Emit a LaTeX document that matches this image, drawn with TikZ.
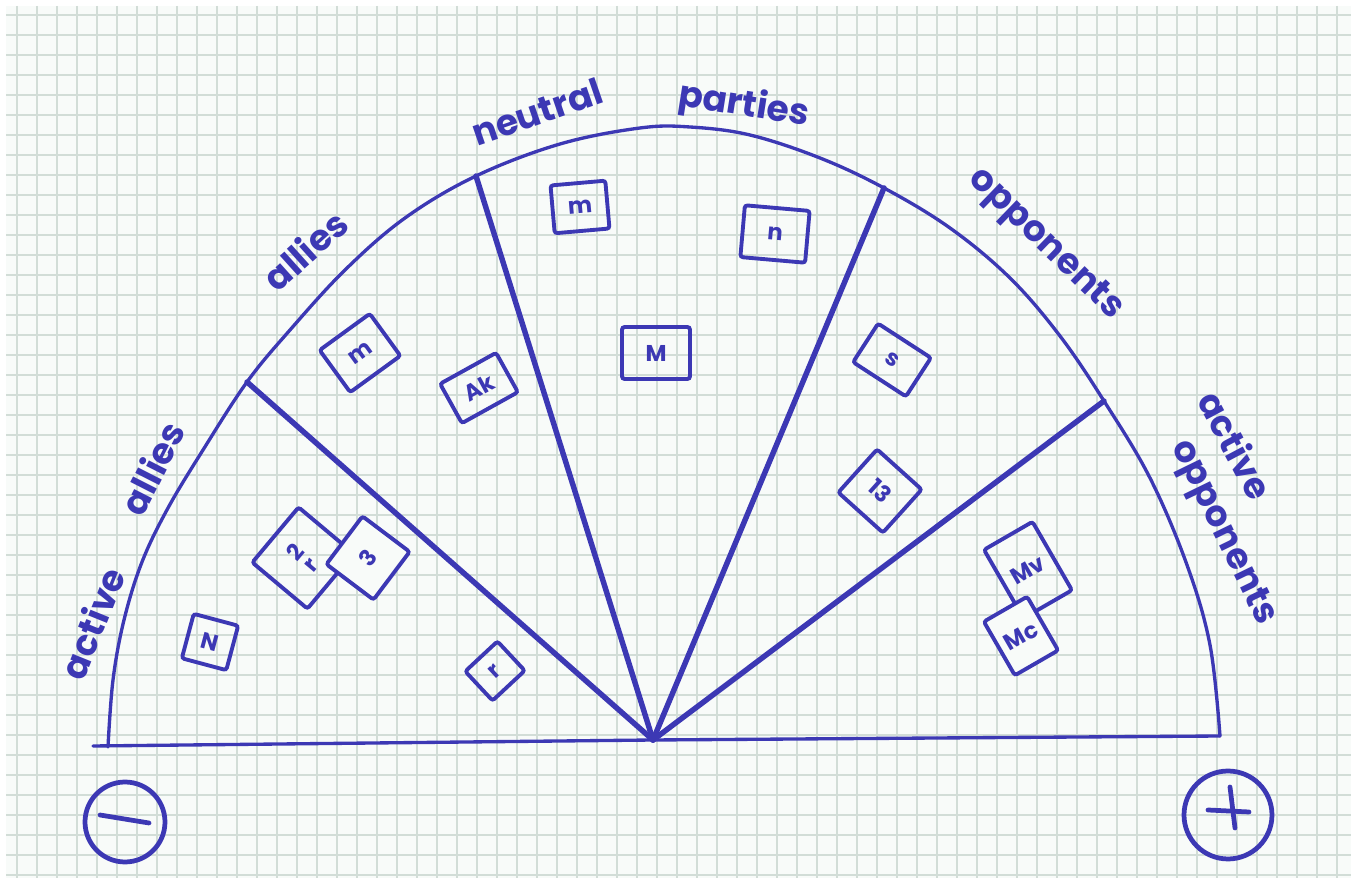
\documentclass[tikz,border=0pt]{standalone}
\usepackage{fontspec}
\setmainfont{Poppins}
\usetikzlibrary{calc}
\definecolor{pen}{HTML}{3C38B4}
\definecolor{paper}{HTML}{F8FBF9}
\definecolor{gridc}{HTML}{D2DDD7}
\tikzset{
  rim/.style={draw=pen, line width=1.9pt, line cap=round, line join=round},
  spoke/.style={draw=pen, line width=3.1pt, line cap=round},
  card/.style={draw=pen, line width=2.2pt, inner sep=0pt, rounded corners=1.5pt,
    text=pen, font=\fontsize{13}{13}\selectfont\bfseries, align=center},
  cardtop/.style={card, fill=paper},
  lab/.style={text=pen, font=\fontsize{20.5}{24}\selectfont\bfseries, inner sep=0pt},
  pm/.style={circle, draw=pen, line width=2.7pt, inner sep=0pt},
  sign/.style={draw=pen, line width=2.7pt, line cap=round},
  gline/.style={draw=gridc, line width=0.8pt},
}
\begin{document}
\begin{tikzpicture}[x=0.02cm, y=-0.02cm]
  \useasboundingbox (0,0) rectangle (1357,884);
  \fill[white] (0,0) rectangle (1357,884);
  \fill[paper] (6,6) rectangle (1351,878);
  \foreach \gx in {17,37,...,1337} \draw[gline] (\gx,6) -- (\gx,878);
  \foreach \gy in {15,35,...,875} \draw[gline] (6,\gy) -- (1351,\gy);

  % half disc
  \coordinate (hub) at (653,740);
  \coordinate (bl) at (93,746);
  \coordinate (br) at (1220,736);
  \coordinate (s1) at (247,382);
  \coordinate (s2) at (476,176);
  \coordinate (s3) at (884,188);
  \coordinate (s4) at (1104,401);
  \draw[rim] plot[smooth, tension=0.6] coordinates {(108,747) (113,680) (124,620)
    (142,562) (168,508) (203,450) (s1) (290,330) (345,270) (405,218) (s2)
    (560,144) (640,128) (690,127) (750,135) (820,158) (s3) (950,228) (1010,278)
    (1060,336) (s4) (1150,478) (1187,565) (1210,645) (br)};
  \draw[rim] (bl) -- (hub) -- (br);
  \foreach \s in {s1,s2,s3,s4} \draw[spoke] (hub) -- (\s);

  % sector labels
  \node[lab, rotate=68] (lactive) at (92,623) {active};
  \node[lab, rotate=63] (lallies) at (152,468) {allies};
  \node[lab, rotate=42] (allies) at (305,250) {allies};
  \node[lab, rotate=19] (neutral) at (537,112) {neutral};
  \node[lab, rotate=-9] (parties) at (744,106) {parties};
  \node[lab, rotate=-44] (opp) at (1045,245) {opponents};
  \node[lab, rotate=-62] (ractive) at (1236,445) {active};
  \node[lab, rotate=-64] (ropp) at (1222,533) {opponents};

  % stakeholder cards
  \node[card, minimum width=12.4mm, minimum height=10.4mm, rotate=36] (c1) at (360,353) {m};
  \node[card, minimum width=12.8mm, minimum height=9mm, rotate=29] (c2) at (479,388) {Ak};
  \node[card, minimum width=14.4mm, minimum height=14.4mm, rotate=50] (c3) at (303,558) {2\\[-2pt]r};
  \node[cardtop, minimum width=12mm, minimum height=11.8mm, rotate=53] (c4) at (368,558) {3};
  \node[card, minimum width=9.2mm, minimum height=9.2mm, rotate=-15] (c5) at (210,642) {N};
  \node[card, minimum width=8.8mm, minimum height=8mm, rotate=43] (c6) at (495,671) {r};
  \node[card, minimum width=11mm, minimum height=9.6mm, rotate=5] (c7) at (580,207) {m};
  \node[card, minimum width=13mm, minimum height=10.4mm, rotate=-5] (c8) at (775,234) {n};
  \node[card, minimum width=13.6mm, minimum height=10.4mm] (c9) at (656,353) {M};
  \node[card, minimum width=12.6mm, minimum height=9.2mm, rotate=-33] (c10) at (892,360) {s};
  \node[card, minimum width=12mm, minimum height=11.6mm, rotate=-42] (c11) at (880,491) {13};
  \node[card, minimum width=11.2mm, minimum height=15.8mm, rotate=30] (c12) at (1028,570) {Mv};
  \node[cardtop, minimum width=10mm, minimum height=12.4mm, rotate=30] (c13) at (1021,636) {Mc};

  % poles
  \node[pm, minimum size=16mm] (minus) at (125,822) {};
  \draw[sign] ($(minus.center)+(-25,-7)$) -- ($(minus.center)+(24,1)$);
  \node[pm, minimum size=17.6mm] (plus) at (1228,815) {};
  \draw[sign] ($(plus.center)+(-20,-5)$) -- ($(plus.center)+(21,-3)$);
  \draw[sign] ($(plus.center)+(2,-28)$) -- ($(plus.center)+(7,13)$);
\end{tikzpicture}
\end{document}
